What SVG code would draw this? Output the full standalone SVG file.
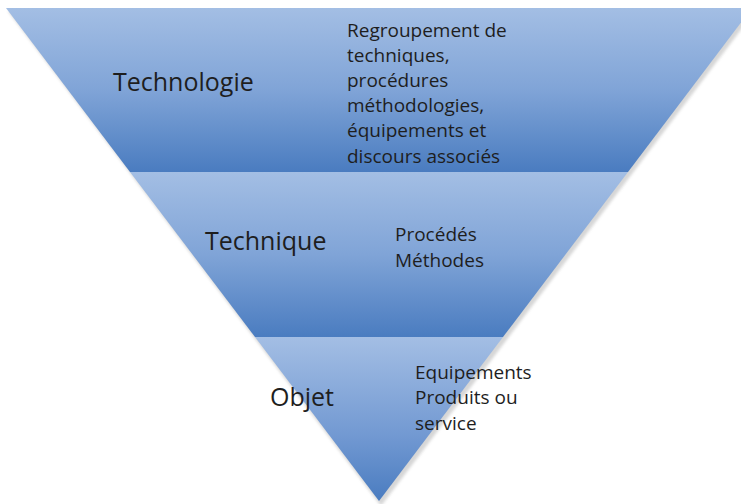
<svg xmlns="http://www.w3.org/2000/svg" width="741" height="504" viewBox="0 0 741 504">
  <defs>
    <linearGradient id="g1" x1="0" y1="0" x2="0" y2="1">
      <stop offset="0" stop-color="#a3bee4"/>
      <stop offset="0.5" stop-color="#80a4d7"/>
      <stop offset="1" stop-color="#4a7cc0"/>
    </linearGradient>
    <linearGradient id="g3" x1="0" y1="0" x2="0" y2="1">
      <stop offset="0" stop-color="#a3bee4"/>
      <stop offset="0.6" stop-color="#7299d2"/>
      <stop offset="1" stop-color="#4a7cc0"/>
    </linearGradient>
    <filter id="sh" x="-5%" y="-5%" width="110%" height="110%">
      <feGaussianBlur stdDeviation="1.5"/>
    </filter>
  </defs>
  <style>
    .lbl { font-family: "Open Sans", "Noto Sans", "Liberation Sans", sans-serif; fill: #1e1e1e; }
    .big { font-size: 25px; }
    .small { font-size: 19px; }
  </style>
  <rect width="741" height="504" fill="#ffffff"/>
  <polygon points="7,9 754,9 380,504" fill="#8a8a8a" opacity="0.35" filter="url(#sh)" transform="translate(1,2)"/>
  <g id="band-technologie">
    <polygon points="6,8 752,8 628,172 130,172" fill="url(#g1)"/>
    <text class="lbl big" x="113" y="91">Technologie</text>
    <text class="lbl small" x="347" y="37">Regroupement de</text>
    <text class="lbl small" x="347" y="62">techniques,</text>
    <text class="lbl small" x="347" y="87">procédures</text>
    <text class="lbl small" x="347" y="112">méthodologies,</text>
    <text class="lbl small" x="347" y="137">équipements et</text>
    <text class="lbl small" x="347" y="163">discours associés</text>
  </g>
  <g id="band-technique">
    <polygon points="130,172 628,172 503,337 255,337" fill="url(#g1)"/>
    <text class="lbl big" x="205" y="250">Technique</text>
    <text class="lbl small" x="395" y="241">Procédés</text>
    <text class="lbl small" x="395" y="267">Méthodes</text>
  </g>
  <g id="band-objet">
    <polygon points="255,337 503,337 379,501" fill="url(#g3)"/>
    <text class="lbl big" x="270" y="406">Objet</text>
    <text class="lbl small" x="415" y="379">Equipements</text>
    <text class="lbl small" x="415" y="404">Produits ou</text>
    <text class="lbl small" x="415" y="430">service</text>
  </g>
  <g id="connectors"/>
</svg>
